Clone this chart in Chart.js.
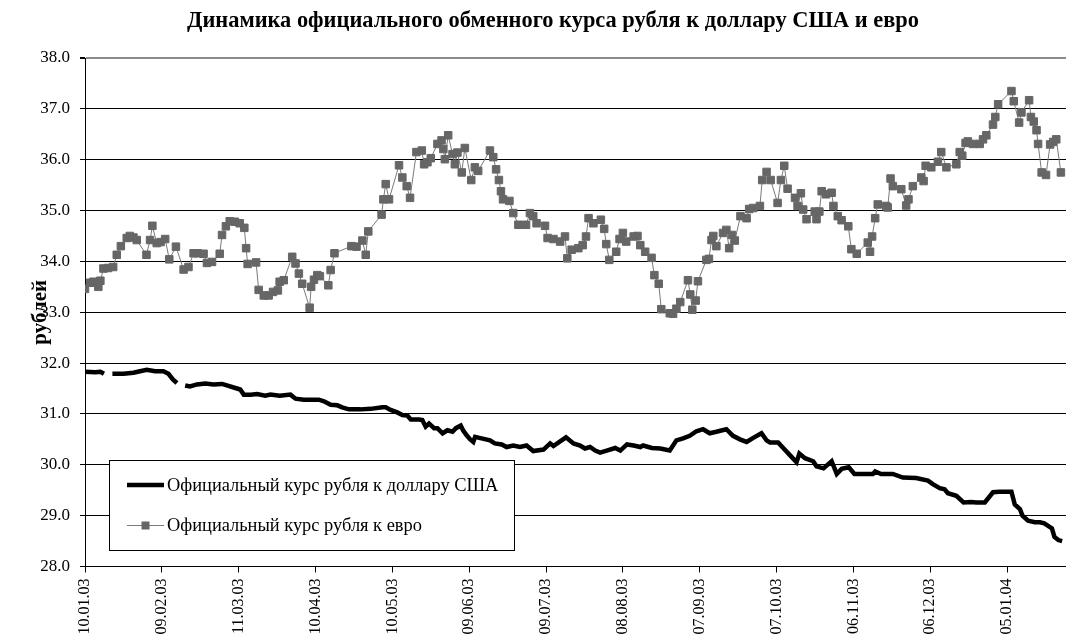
<!DOCTYPE html>
<html>
<head>
<meta charset="utf-8">
<script src="https://cdn.jsdelivr.net/npm/chart.js@4.4.0/dist/chart.umd.min.js"></script>
<style>
    html, body { margin: 0; padding: 0; background: #fff; }
    #wrap { width: 1066px; height: 637px; }
</style>
</head>
<body>
<div id="wrap"><canvas id="rate" width="1066" height="637"></canvas></div>
<script>
// DATA
const chartTitle = 'Динамика официального обменного курса рубля к доллару США и евро';
const seriesNames = ['Официальный курс рубля к доллару США', 'Официальный курс рубля к евро'];

// days counted from 10.01.03
const tickDays = [0, 30, 60, 90, 120, 150, 180, 210, 240, 270, 300, 330, 360];
const tickLabels = ['10.01.03', '09.02.03', '11.03.03', '10.04.03', '10.05.03', '09.06.03', '09.07.03',
    '08.08.03', '07.09.03', '07.10.03', '06.11.03', '06.12.03', '05.01.04'];

const usdDays = [0, 4, 6, 7.4, 9, 10.7, 15, 18.9, 21.5, 24.1, 27.4, 30.6, 32.6, 34.3, 35.9, 37.5,
    39.1, 41, 43.7, 47, 50.2, 53.5, 55.4, 58.7, 60.6, 62, 64.6, 67.2, 70.4, 72.4, 76, 80.2, 82.2,
    85.4, 91.3, 93.3, 95.9, 98.5, 100.4, 103, 107.6, 111.5, 116.1, 117.4, 119.3, 121.9, 123.9,
    125.8, 127.2, 130.4, 131.7, 133, 134.3, 136.3, 137.6, 139.6, 141.5, 143.5, 144.8, 146.7,
    147.6, 149, 150.4, 151.6, 152.3, 154.8, 158.1, 160, 162.7, 164.6, 167.2, 169.8, 172.4, 175,
    179, 181.6, 182.9, 185.5, 187.8, 190.7, 193.3, 195.2, 197.2, 199.2, 201.1, 203.7, 207, 209,
    211.6, 214.2, 216.8, 217.9, 221.3, 224.6, 228.3, 230.9, 233.5, 236.1, 238.7, 241.3, 243.9,
    246.5, 250.4, 253, 255.7, 258.3, 260.9, 264.1, 266.1, 267.4, 270.6, 272.6, 275.2, 277.8,
    278.9, 281.1, 284.3, 285.6, 288.3, 291.5, 293.5, 295.4, 298.2, 300.4, 303.7, 307.6, 308.5,
    310.8, 315.4, 319.3, 324.5, 329.1, 331, 333.7, 335.6, 336.9, 340.2, 343, 346, 348, 351.3,
    354.5, 357.1, 361.7, 363, 365, 366, 368.2, 370.8, 372.8, 374.5, 376, 377.5, 378.5, 380, 381.5];
const usdRates = [31.83, 31.82, 31.83, 31.79, null, 31.79, 31.79, 31.81, 31.84, 31.87, 31.84, 31.84,
    31.79, 31.68, 31.61, null, 31.56, 31.54, 31.58, 31.60, 31.58, 31.59, 31.56, 31.51, 31.48, 31.38,
    31.38, 31.39, 31.36, 31.38, 31.36, 31.38, 31.30, 31.28, 31.28, 31.25, 31.18, 31.17, 31.13, 31.09,
    31.09, 31.10, 31.13, 31.13, 31.08, 31.03, 30.98, 30.97, 30.89, 30.89, 30.88, 30.75, 30.81, 30.72,
    30.72, 30.62, 30.68, 30.65, 30.72, 30.77, 30.68, 30.58, 30.50, 30.45, 30.55, 30.52, 30.48, 30.42,
    30.40, 30.35, 30.38, 30.35, 30.38, 30.27, 30.30, 30.42, 30.37, 30.46, 30.54, 30.42, 30.38, 30.32,
    30.35, 30.28, 30.24, 30.28, 30.33, 30.28, 30.40, 30.38, 30.35, 30.38, 30.33, 30.32, 30.28, 30.48,
    30.52, 30.57, 30.66, 30.70, 30.62, 30.65, 30.70, 30.57, 30.50, 30.45, 30.53, 30.62, 30.48, 30.44,
    30.44, 30.33, 30.19, 30.05, 30.22, 30.13, 30.07, 29.97, 29.93, 30.07, 29.82, 29.92, 29.95, 29.82,
    29.82, 29.82, 29.87, 29.82, 29.82, 29.75, 29.74, 29.69, 29.62, 29.54, 29.52, 29.44, 29.39, 29.26,
    29.27, 29.26, 29.26, 29.46, 29.47, 29.47, 29.22, 29.13, 29.00, 28.90, 28.87, 28.87, 28.85, 28.80,
    28.75, 28.58, 28.52, 28.50];

const eurDays = [0, 2, 3.3, 5.2, 6, 7.2, 9, 11, 12.4, 14, 16.3, 17.5, 18.9, 20.2, 24, 25.4, 26.3,
    28, 29.5, 31.3, 32.9, 35.5, 38.5, 40.4, 42.4, 44, 46.3, 47.6, 49.6, 52.6, 53.5, 55, 56.5, 58.5,
    60.4, 62.2, 62.9, 63.5, 66.8, 67.8, 69.8, 71.7, 73.4, 75.3, 76, 77.6, 80.9, 82.2, 83.5, 84.8,
    87.7, 88.3, 89.4, 90.7, 91.7, 95, 95.9, 97.4, 104, 106, 108.3, 109.6, 110.6, 115.8, 116.5,
    117.4, 118.7, 122.6, 123.9, 125.6, 126.9, 129.4, 131.5, 132.4, 133.7, 135, 137.6, 139.2, 139.9,
    140.5, 141.8, 143.5, 144.4, 145.4, 147.1, 148.3, 150.8, 152.2, 153.5, 158.1, 159.4, 160.5,
    161.6, 162.4, 163.2, 165.7, 167.2, 169.2, 172.2, 173.7, 175, 176.3, 179.6, 180.6, 182.9, 185.5,
    187.4, 188.3, 190, 192.6, 194.3, 195.6, 196.6, 198.5, 201.4, 202.7, 203.5, 204.7, 207.4, 208.7,
    210, 211.3, 214.2, 215.7, 216.8, 218.7, 221.2, 222.3, 224, 225, 228.3, 229.6, 230.9, 232.4,
    235.4, 236.3, 237.1, 238.4, 239.3, 242.6, 243.6, 244.6, 245.3, 246.5, 249.1, 250.4, 251.5,
    252.6, 253.7, 255.9, 258.3, 259.3, 260.9, 263.5, 264.4, 266.1, 267.7, 270.4, 271.7, 273, 274.3,
    277.2, 278.2, 279.5, 280.4, 281.7, 284.9, 285.6, 286.7, 287.6, 289.3, 291.5, 292.2, 293.9,
    295.4, 298, 299.2, 301.3, 305.6, 306.5, 307.3, 308.5, 309.5, 312.8, 313.4, 314.5, 315.4, 318.7,
    320.6, 321.5, 323.2, 326.5, 327.4, 328.2, 330.4, 333, 334.3, 336.3, 340.2, 341.5, 342.5, 343.8,
    344.7, 346.7, 349.3, 350.6, 351.9, 354.5, 355.4, 356.5, 361.7, 362.6, 364.7, 365.6, 368.6,
    369.3, 370.4, 371.5, 372.1, 373.5, 375.2, 376.8, 378, 379.2, 381];
const eurRates = [33.46, 33.58, 33.60, 33.50, 33.62, 33.86, 33.87, 33.89, 34.13, 34.30, 34.46, 34.50,
    34.47, 34.42, 34.13, 34.42, 34.70, 34.36, 34.38, 34.44, 34.04, 34.29, 33.84, 33.89, 34.16, 34.16,
    34.15, 33.97, 33.99, 34.15, 34.52, 34.69, 34.79, 34.78, 34.75, 34.66, 34.26, 33.95, 33.98, 33.44,
    33.33, 33.33, 33.40, 33.43, 33.60, 33.63, 34.09, 33.96, 33.76, 33.56, 33.09, 33.50, 33.64, 33.73,
    33.71, 33.53, 33.83, 34.16, 34.30, 34.29, 34.41, 34.13, 34.59, 34.92, 35.22, 35.52, 35.22, 35.89,
    35.65, 35.48, 35.25, 36.15, 36.18, 35.91, 35.95, 36.03, 36.31, 36.38, 36.21, 36.01, 36.48, 36.11,
    35.91, 36.14, 35.75, 36.23, 35.60, 35.85, 35.78, 36.18, 36.05, 35.81, 35.60, 35.38, 35.22, 35.19,
    34.95, 34.72, 34.72, 34.95, 34.89, 34.75, 34.70, 34.46, 34.44, 34.39, 34.49, 34.06, 34.23, 34.26,
    34.32, 34.49, 34.85, 34.75, 34.82, 34.64, 34.34, 34.03, 34.19, 34.44, 34.56, 34.39, 34.49, 34.50,
    34.32, 34.19, 34.07, 33.73, 33.56, 33.06, 32.98, 32.97, 33.07, 33.20, 33.63, 33.35, 33.05, 33.23,
    33.61, 34.03, 34.05, 34.42, 34.50, 34.30, 34.56, 34.62, 34.26, 34.52, 34.41, 34.89, 34.85, 35.03,
    35.05, 35.09, 35.60, 35.76, 35.60, 35.15, 35.60, 35.88, 35.43, 35.25, 35.09, 35.34, 35.02, 34.83,
    34.98, 34.83, 34.98, 35.38, 35.32, 35.35, 35.09, 34.89, 34.81, 34.69, 34.24, 34.15, 34.37, 34.19,
    34.49, 34.85, 35.12, 35.09, 35.06, 35.63, 35.48, 35.42, 35.10, 35.22, 35.48, 35.65, 35.58, 35.88,
    35.85, 35.96, 36.15, 35.85, 35.91, 36.15, 36.08, 36.33, 36.36, 36.31, 36.31, 36.40, 36.48, 36.69,
    36.84, 37.09, 37.35, 37.15, 36.73, 36.93, 37.17, 36.84, 36.75, 36.58, 36.31, 35.75, 35.70, 36.30,
    36.35, 36.40, 35.75];

const serif = 'Liberation Serif';

// TITLE
const titlePlugin = {
    id: 'topTitle',
    afterDraw: function (chart) {
        const ctx = chart.ctx;
        ctx.save();
        ctx.font = 'bold 22.4px "' + serif + '"';
        ctx.fillStyle = '#000';
        ctx.textAlign = 'center';
        ctx.textBaseline = 'middle';
        ctx.fillText(chartTitle, 553, 21);
        ctx.restore();
    }
};

// LEGEND (box inside the plot)
const legendBox = {
    id: 'legendBox',
    afterDraw: function (chart) {
        const ctx = chart.ctx;
        const sets = chart.data.datasets;
        ctx.save();
        ctx.fillStyle = '#fff';
        ctx.fillRect(109.5, 460.5, 405, 90);
        ctx.strokeStyle = '#000';
        ctx.lineWidth = 1;
        ctx.strokeRect(109.5, 460.5, 405, 90);

        ctx.font = '18.4px "' + serif + '"';
        ctx.textBaseline = 'middle';
        ctx.textAlign = 'left';

        ctx.strokeStyle = sets[0].borderColor;
        ctx.lineWidth = sets[0].borderWidth;
        ctx.beginPath();
        ctx.moveTo(127, 485);
        ctx.lineTo(164, 485);
        ctx.stroke();
        ctx.fillStyle = '#000';
        ctx.fillText(sets[0].label, 167, 486);

        ctx.strokeStyle = sets[1].borderColor;
        ctx.lineWidth = 1;
        ctx.beginPath();
        ctx.moveTo(127, 525.5);
        ctx.lineTo(164, 525.5);
        ctx.stroke();
        ctx.fillStyle = sets[1].pointBackgroundColor;
        ctx.fillRect(141.5, 521.5, 8, 8);
        ctx.fillStyle = '#000';
        ctx.fillText(sets[1].label, 167, 526);
        ctx.restore();
    }
};

new Chart(document.getElementById('rate'), {
    type: 'line',
    data: {
        datasets: [{
            label: seriesNames[0],
            data: usdDays.map(function (d, i) { return { x: d, y: usdRates[i] }; }),
            borderColor: '#000',
            borderWidth: 4.5,
            pointRadius: 0,
            spanGaps: false,
            tension: 0
        }, {
            label: seriesNames[1],
            data: eurDays.map(function (d, i) { return { x: d, y: eurRates[i] }; }),
            borderColor: '#7a7a7a',
            borderWidth: 1,
            pointStyle: 'rect',
            pointRadius: 5.3,
            pointBackgroundColor: '#666666',
            pointBorderColor: '#666666',
            pointBorderWidth: 1,
            tension: 0
        }]
    },
    options: {
        responsive: false,
        animation: false,
        layout: { autoPadding: false, padding: { top: 58, right: 0, bottom: 0, left: 0 } },
        plugins: {
            legend: { display: false },
            tooltip: { enabled: false }
        },
        scales: {
            x: {
                type: 'linear',
                min: 0,
                max: 383,
                afterBuildTicks: function (s) { s.ticks = tickDays.map(function (v) { return { value: v }; }); },
                afterFit: function (s) {
                    s.height = 70.5;
                    s.paddingLeft = 0;
                    s.paddingRight = 0;
                },
                grid: { drawOnChartArea: false, tickLength: 6, color: '#000' },
                border: { color: '#000', width: 1 },
                ticks: {
                    autoSkip: false,
                    maxRotation: 90,
                    minRotation: 90,
                    padding: 6,
                    color: '#000',
                    font: { family: serif, size: 16 },
                    callback: function (v, i) { return tickLabels[i]; }
                }
            },
            y: {
                min: 28,
                max: 38,
                afterFit: function (s) { s.width = 85; },
                grid: {
                    color: function (c) { return c.tick && c.tick.value === 38 ? '#8c8c8c' : '#000'; },
                    lineWidth: function (c) { return c.tick && c.tick.value === 38 ? 2 : 1; },
                    tickColor: '#000',
                    tickLength: 5
                },
                border: { color: '#000', width: 1 },
                ticks: {
                    stepSize: 1,
                    padding: 10,
                    color: '#000',
                    font: { family: serif, size: 17 },
                    callback: function (v) { return v.toFixed(1); }
                },
                title: {
                    display: true,
                    text: 'рублей',
                    color: '#000',
                    font: { family: serif, size: 21, weight: 'bold' },
                    padding: { top: 28, bottom: 0 }
                }
            }
        }
    },
    plugins: [titlePlugin, legendBox]
});
</script>
</body>
</html>
